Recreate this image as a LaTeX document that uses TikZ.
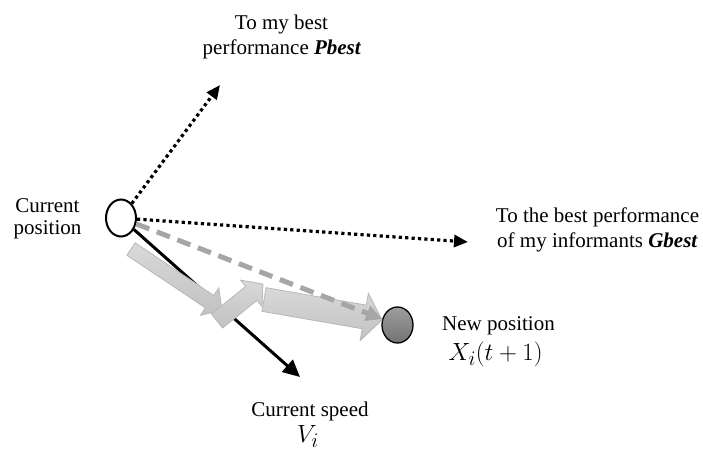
\documentclass[tikz,border=0pt]{standalone}
\usepackage[no-math]{fontspec}
\setmainfont{Liberation Serif}
\usetikzlibrary{arrows.meta,calc,shapes.geometric}
\tikzset{
 lbl/.style={anchor=base, inner sep=0pt, font=\fontsize{21}{25}\selectfont},
 mathlbl/.style={anchor=base, inner sep=0pt, font=\fontsize{24.88}{28}\selectfont},
 dotarrow/.style={line width=3.2pt, line cap=butt, dash pattern=on 3.2pt off 3.2pt, -{Triangle[length=14pt,width=12pt]}},
 gdash/.style={draw=black!35, line width=5pt, dash pattern=on 14pt off 8pt, -{Triangle[length=16pt,width=15pt]}},
 speedarrow/.style={line width=3pt, -{Triangle[length=17pt,width=16pt]}},
 blockarrow/.style={top color=black!15, bottom color=black!24, draw=black!28, line width=0.8pt, line join=miter},
 posnode/.style={ellipse, draw, minimum width=30pt, minimum height=37pt, inner sep=0pt},
}
\newcommand\blkarrow[4]{% prefix, shaft half width, head half width, head length
  \coordinate (#1b) at ($(#1t)!#4!(#1s)$);
  \path[blockarrow] ($(#1s)!#2!90:(#1t)$) -- ($(#1b)!#2!90:(#1t)$) -- ($(#1b)!#3!90:(#1t)$) -- (#1t)
     -- ($(#1b)!#3!-90:(#1t)$) -- ($(#1b)!#2!-90:(#1t)$) -- ($(#1s)!#2!-90:(#1t)$) -- cycle;
}
\begin{document}
\begin{tikzpicture}[x=1pt,y=-1pt]
\useasboundingbox (0,0) rectangle (703,453);
% positions
\node[posnode, line width=2pt, fill=white] (cur) at (121,218) {};
\node[posnode, line width=1.3pt, minimum width=31pt, minimum height=36pt, top color=black!38, bottom color=black!55] (new) at (397.5,325) {};
\coordinate (pb) at (220,85);
\coordinate (gb) at (468,242);
\coordinate (spd) at (300,377);
% current speed
\draw[speedarrow] (cur) -- (spd);
% block arrows
\coordinate (a1s) at (131,249); \coordinate (a1t) at (222,310);
\coordinate (a2s) at (217,321); \coordinate (a2t) at (263,284);
\coordinate (a3s) at (264,299.5); \coordinate (a3t) at (382,320);
\blkarrow{a1}{7.5pt}{16.5pt}{15pt}
\blkarrow{a2}{9pt}{17pt}{15pt}
\blkarrow{a3}{12pt}{24pt}{18pt}
% dashed resultant
\draw[gdash] (cur) -- (new);
% dotted
\draw[dotarrow] (cur) -- (pb);
\draw[dotarrow] (cur) -- (gb);
% labels
\node[lbl] (l1a) at (281.5,29) {To my best};
\node[lbl] (l1b) at (282,54) {performance \textbf{\textit{Pbest}}};
\node[lbl] (l2a) at (47.5,212) {Current};
\node[lbl] (l2b) at (47.5,234) {position};
\node[lbl] (l3a) at (597.5,222) {To the best performance};
\node[lbl] (l3b) at (597.5,247) {of my informants \textbf{\textit{Gbest}}};
\node[lbl] (l4a) at (498.5,330) {New position};
\node[mathlbl] (l4b) at (495.5,360) {$X_i(t+1)$};
\node[lbl] (l5a) at (310,416) {Current speed};
\node[mathlbl] (l5b) at (308,442) {$V_i$};
\end{tikzpicture}
\end{document}
